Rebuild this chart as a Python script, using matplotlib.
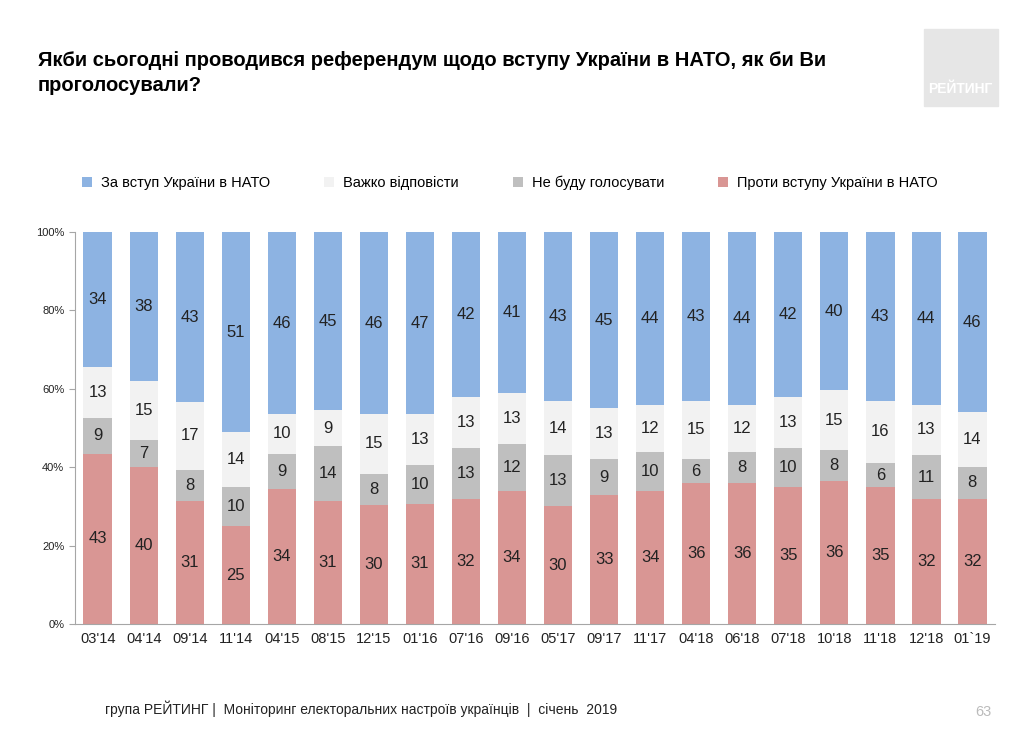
import matplotlib
matplotlib.use("Agg")
import matplotlib.pyplot as plt
import numpy as np

plt.rcParams['font.family'] = ['Liberation Sans', 'DejaVu Sans']

labels = ["03'14","04'14","09'14","11'14","04'15","08'15","12'15","01'16","07'16","09'16",
          "05'17","09'17","11'17","04'18","06'18","07'18","10'18","11'18","12'18","01`19"]
against = [43,40,31,25,34,31,30,31,32,34,30,33,34,36,36,35,36,35,32,32]
novote  = [9,7,8,10,9,14,8,10,13,12,13,9,10,6,8,10,8,6,11,8]
hard    = [13,15,17,14,10,9,15,13,13,13,14,13,12,15,12,13,15,16,13,14]
forn    = [34,38,43,51,46,45,46,47,42,41,43,45,44,43,44,42,40,43,44,46]

series = [against, novote, hard, forn]
names = ["Проти вступу України в НАТО", "Не буду голосувати", "Важко відповісти", "За вступ України в НАТО"]
colors = ["#D99694", "#BFBFBF", "#F2F2F2", "#8DB3E2"]

data = np.array(series, dtype=float)
norm = data / data.sum(axis=0) * 100

fig = plt.figure(figsize=(10.24, 7.32), dpi=100)
ax = fig.add_axes([0.073, 0.1475, 0.899, 0.5355])
x = np.arange(len(labels))
bottom = np.zeros(len(labels))
handles = {}
for i in range(4):
    b = ax.bar(x, norm[i], bottom=bottom, width=0.62, color=colors[i], label=names[i])
    handles[names[i]] = b
    for xi, (v, h, bt) in enumerate(zip(data[i], norm[i], bottom)):
        ax.text(xi, bt + h / 2, f"{int(v)}", ha='center', va='center', fontsize=12, color='#222222')
    bottom += norm[i]

ax.set_xlim(-0.5, len(labels) - 0.5)
ax.set_ylim(0, 100)
ax.set_yticks(range(0, 101, 20))
ax.set_yticklabels([f"{v}%" for v in range(0, 101, 20)], fontsize=8)
ax.set_xticks(x)
ax.set_xticklabels(labels, fontsize=10.5)
for s in ['top', 'right']:
    ax.spines[s].set_visible(False)
for s in ['left', 'bottom']:
    ax.spines[s].set_color('#A6A6A6')
ax.tick_params(axis='both', colors='#A6A6A6', labelcolor='#222222', length=4)
ax.tick_params(axis='x', length=0, pad=6)

order = ["За вступ України в НАТО", "Важко відповісти", "Не буду голосувати", "Проти вступу України в НАТО"]
fig.legend([handles[n] for n in order], order, loc='center', bbox_to_anchor=(0.498, 0.75),
           ncol=4, frameon=False, fontsize=10.5, handlelength=0.7, handleheight=0.7,
           columnspacing=3.7, handletextpad=0.6)

fig.text(0.037, 0.9, "Якби сьогодні проводився референдум щодо вступу України в НАТО, як би Ви\nпроголосували?",
         fontsize=14.5, fontweight='bold', va='center', ha='left', linespacing=1.4)

# logo
fig.patches.append(plt.Rectangle((0.902, 0.855), 0.073, 0.105, transform=fig.transFigure,
                                 color='#E6E6E6', zorder=0))
fig.text(0.938, 0.878, "РЕЙТИНГ", fontsize=10, fontweight='bold', color='white', ha='center', va='center')

fig.text(0.103, 0.02, "група РЕЙТИНГ |  Моніторинг електоральних настроїв українців  |  січень  2019",
         fontsize=10, color='#222222', ha='left', va='bottom')
fig.text(0.968, 0.018, "63", fontsize=10.5, color='#BBBBBB', ha='right', va='bottom')

fig.savefig("out.png", dpi=100)
